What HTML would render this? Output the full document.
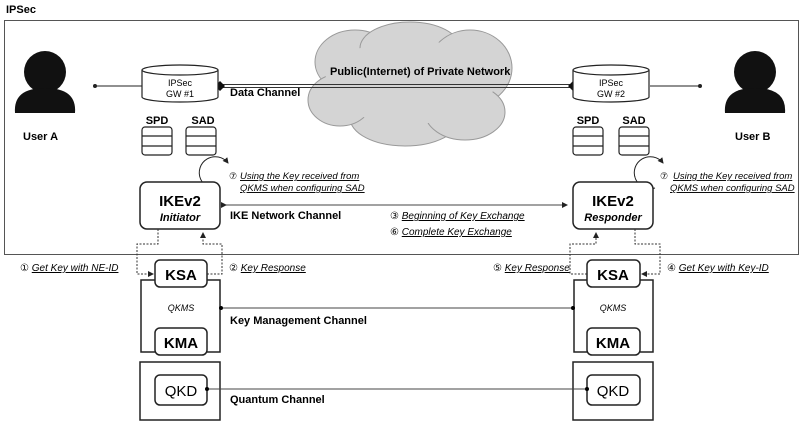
<!DOCTYPE html>
<html><head><meta charset="utf-8"><style>
body{margin:0;background:#fff}
svg{display:block;font-family:"Liberation Sans",sans-serif}
.b{font-weight:bold}
.i{font-style:italic;text-decoration:underline}
</style></head><body>
<svg width="811" height="427" viewBox="0 0 811 427">
<defs>
<marker id="a" markerWidth="6" markerHeight="6" refX="5" refY="3" orient="auto"><path d="M0,0 L6,3 L0,6z" fill="#222"/></marker>
</defs>
<text x="6" y="13" font-size="11" class="b">IPSec</text>
<rect x="4.5" y="20.5" width="794" height="234" fill="none" stroke="#555" stroke-width="1"/>
<!-- cloud -->
<g fill="#d4d4d4" stroke="#999">
<ellipse cx="355" cy="62" rx="40" ry="32"/><ellipse cx="410" cy="48" rx="50" ry="26"/><ellipse cx="470" cy="68" rx="42" ry="38"/>
<ellipse cx="405" cy="118" rx="55" ry="28"/><ellipse cx="340" cy="100" rx="32" ry="26"/><ellipse cx="465" cy="112" rx="40" ry="28"/>
</g>
<g fill="#d4d4d4"><ellipse cx="410" cy="82" rx="85" ry="42"/></g>
<text x="330" y="75" font-size="11" class="b">Public(Internet) of Private Network</text>
<!-- users -->
<g fill="#111">
<circle cx="45" cy="72" r="21"/><path d="M15,113 Q13,88 45,88 Q77,88 75,113z"/>
<circle cx="755" cy="72" r="21"/><path d="M725,113 Q723,88 755,88 Q787,88 785,113z"/>
</g>
<text x="23" y="140" font-size="11" class="b">User A</text>
<text x="735" y="140" font-size="11" class="b">User B</text>
<!-- lines -->
<line x1="95" y1="86" x2="142" y2="86" stroke="#222"/><circle cx="95" cy="86" r="2" fill="#222"/>
<line x1="650" y1="86" x2="700" y2="86" stroke="#222"/><circle cx="700" cy="86" r="2" fill="#222"/>
<line x1="220" y1="84.5" x2="573" y2="84.5" stroke="#333"/><line x1="220" y1="87.5" x2="573" y2="87.5" stroke="#333"/>
<path d="M215,86 L220,81 L225,86 L220,91z M568,86 L573,81 L578,86 L573,91z" fill="#111"/>
<text x="230" y="96" font-size="11" class="b">Data Channel</text>
<!-- gateways -->
<g fill="#fff" stroke="#222" stroke-width="1.2">
<path d="M142,70 L142,97 A38,5 0 0 0 218,97 L218,70"/><ellipse cx="180" cy="70" rx="38" ry="5"/>
<path d="M573,70 L573,97 A38,5 0 0 0 649,97 L649,70"/><ellipse cx="611" cy="70" rx="38" ry="5"/>
</g>
<g font-size="9" text-anchor="middle"><text x="180" y="86">IPSec</text><text x="180" y="97">GW #1</text>
<text x="611" y="86">IPSec</text><text x="611" y="97">GW #2</text></g>
<!-- DBs -->
<g fill="#fff" stroke="#222" stroke-width="1.2">
<rect x="142" y="127" width="30" height="28" rx="3"/><line x1="142" y1="136" x2="172" y2="136"/><line x1="142" y1="146" x2="172" y2="146"/>
<rect x="186" y="127" width="30" height="28" rx="3"/><line x1="186" y1="136" x2="216" y2="136"/><line x1="186" y1="146" x2="216" y2="146"/>
<rect x="573" y="127" width="30" height="28" rx="3"/><line x1="573" y1="136" x2="603" y2="136"/><line x1="573" y1="146" x2="603" y2="146"/>
<rect x="619" y="127" width="30" height="28" rx="3"/><line x1="619" y1="136" x2="649" y2="136"/><line x1="619" y1="146" x2="649" y2="146"/>
</g>
<g font-size="11" class="b" text-anchor="middle"><text x="157" y="124">SPD</text><text x="203" y="124">SAD</text><text x="588" y="124">SPD</text><text x="634" y="124">SAD</text></g>
<!-- circular arrows -->
<g fill="none" stroke="#222">
<path d="M220,188 A16,16 0 1 1 228,163" marker-end="url(#a)"/>
<path d="M655,188 A16,16 0 1 1 663,163" marker-end="url(#a)"/>
</g>
<g font-size="9.5" class="i"><text x="240" y="179">Using the Key received from</text><text x="240" y="191">QKMS when configuring SAD</text>
<text x="673" y="179">Using the Key received from</text><text x="670" y="191">QKMS when configuring SAD</text></g>
<g font-size="9"><text x="229" y="179">⑦</text><text x="660" y="179">⑦</text></g>
<!-- IKE -->
<g fill="#fff" stroke="#222" stroke-width="1.5">
<rect x="140" y="182" width="80" height="47" rx="7"/><rect x="573" y="182" width="80" height="47" rx="7"/>
</g>
<g text-anchor="middle"><text x="180" y="206" font-size="15" class="b">IKEv2</text><text x="180" y="221" font-size="11" font-style="italic" font-weight="bold">Initiator</text>
<text x="613" y="206" font-size="15" class="b">IKEv2</text><text x="613" y="221" font-size="11" font-style="italic" font-weight="bold">Responder</text></g>
<line x1="226" y1="205" x2="567" y2="205" stroke="#444" marker-start="url(#a)" marker-end="url(#a)"/>
<text x="230" y="219" font-size="11" class="b">IKE Network Channel</text>
<g font-size="10"><text x="390" y="219">③ <tspan class="i">Beginning of Key Exchange</tspan></text><text x="390" y="235">⑥ <tspan class="i">Complete Key Exchange</tspan></text>
<text x="20" y="271">① <tspan class="i">Get Key with NE-ID</tspan></text><text x="229" y="271">② <tspan class="i">Key Response</tspan></text>
<text x="493" y="271">⑤ <tspan class="i">Key Response</tspan></text><text x="667" y="271">④ <tspan class="i">Get Key with Key-ID</tspan></text></g>
<!-- dashed -->
<g fill="none" stroke="#333" stroke-dasharray="2,1.5">
<path d="M158,229 V244 H137 V274 H153" marker-end="url(#a)"/>
<path d="M207,274 H222 V244 H203 V233" marker-end="url(#a)"/>
<path d="M635,229 V244 H660 V274 H642" marker-end="url(#a)"/>
<path d="M587,274 H570 V244 H596 V233" marker-end="url(#a)"/>
</g>
<!-- QKMS -->
<g fill="none" stroke="#222" stroke-width="1.5">
<path d="M155,280 H141 V352 H155 M207,280 H220 V352 H207"/>
<path d="M587,280 H574 V352 H587 M640,280 H653 V352 H640"/>
<rect x="140" y="362" width="80" height="58"/><rect x="573" y="362" width="80" height="58"/>
</g>
<g fill="#fff" stroke="#222" stroke-width="1.5">
<rect x="155" y="260" width="52" height="27" rx="5"/><rect x="155" y="328" width="52" height="27" rx="5"/><rect x="155" y="375" width="52" height="30" rx="5"/>
<rect x="587" y="260" width="53" height="27" rx="5"/><rect x="587" y="328" width="53" height="27" rx="5"/><rect x="587" y="375" width="53" height="30" rx="5"/>
</g>
<g text-anchor="middle" font-size="15" class="b">
<text x="181" y="280">KSA</text><text x="181" y="348">KMA</text><text x="181" y="396" font-weight="normal">QKD</text>
<text x="613" y="280">KSA</text><text x="613" y="348">KMA</text><text x="613" y="396" font-weight="normal">QKD</text></g>
<g text-anchor="middle" font-size="9" font-style="italic"><text x="181" y="311">QKMS</text><text x="613" y="311">QKMS</text></g>
<line x1="221" y1="308" x2="573" y2="308" stroke="#444"/><circle cx="221" cy="308" r="2"/><circle cx="573" cy="308" r="2"/>
<text x="230" y="324" font-size="11" class="b">Key Management Channel</text>
<line x1="207" y1="389" x2="587" y2="389" stroke="#444"/><circle cx="207" cy="389" r="2"/><circle cx="587" cy="389" r="2"/>
<text x="230" y="403" font-size="11" class="b">Quantum Channel</text>
</svg>
</body></html>
